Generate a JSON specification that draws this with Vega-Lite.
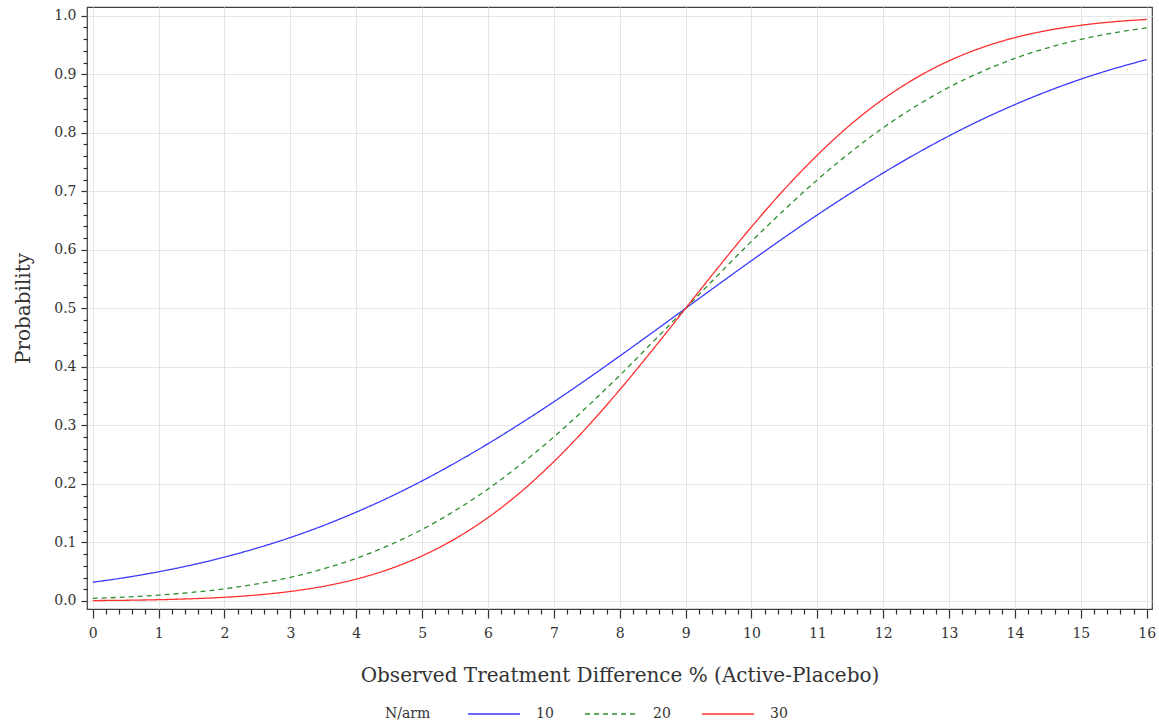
{
  "$schema": "https://vega.github.io/schema/vega-lite/v6.json",
  "autosize": {"type": "none"},
  "padding": {"left": 87, "top": 7, "right": 7, "bottom": 114},
  "width": 1065,
  "height": 602,
  "background": "white",
  "datasets": {
    "curves": [
      {"x":0,"n":"10","p":0.0320},{"x":0.5,"n":"10","p":0.0401},{"x":1,"n":"10","p":0.0499},{"x":1.5,"n":"10","p":0.0614},{"x":2,"n":"10","p":0.0749},{"x":2.5,"n":"10","p":0.0906},{"x":3,"n":"10","p":0.1084},{"x":3.5,"n":"10","p":0.1288},{"x":4,"n":"10","p":0.1518},{"x":4.5,"n":"10","p":0.1772},{"x":5,"n":"10","p":0.2052},{"x":5.5,"n":"10","p":0.2358},{"x":6,"n":"10","p":0.2686},{"x":6.5,"n":"10","p":0.3036},{"x":7,"n":"10","p":0.3403},{"x":7.5,"n":"10","p":0.3788},{"x":8,"n":"10","p":0.4185},{"x":8.5,"n":"10","p":0.4590},{"x":9,"n":"10","p":0.5},{"x":9.5,"n":"10","p":0.5410},{"x":10,"n":"10","p":0.5815},{"x":10.5,"n":"10","p":0.6212},{"x":11,"n":"10","p":0.6597},{"x":11.5,"n":"10","p":0.6964},{"x":12,"n":"10","p":0.7314},{"x":12.5,"n":"10","p":0.7642},{"x":13,"n":"10","p":0.7948},{"x":13.5,"n":"10","p":0.8228},{"x":14,"n":"10","p":0.8482},{"x":14.5,"n":"10","p":0.8712},{"x":15,"n":"10","p":0.8916},{"x":15.5,"n":"10","p":0.9094},{"x":16,"n":"10","p":0.9251},
      {"x":0,"n":"20","p":0.0044},{"x":0.5,"n":"20","p":0.0067},{"x":1,"n":"20","p":0.0100},{"x":1.5,"n":"20","p":0.0146},{"x":2,"n":"20","p":0.0208},{"x":2.5,"n":"20","p":0.0293},{"x":3,"n":"20","p":0.0404},{"x":3.5,"n":"20","p":0.0548},{"x":4,"n":"20","p":0.0728},{"x":4.5,"n":"20","p":0.0953},{"x":5,"n":"20","p":0.1222},{"x":5.5,"n":"20","p":0.1543},{"x":6,"n":"20","p":0.1913},{"x":6.5,"n":"20","p":0.2336},{"x":7,"n":"20","p":0.2803},{"x":7.5,"n":"20","p":0.3313},{"x":8,"n":"20","p":0.3855},{"x":8.5,"n":"20","p":0.4422},{"x":9,"n":"20","p":0.5},{"x":9.5,"n":"20","p":0.5578},{"x":10,"n":"20","p":0.6145},{"x":10.5,"n":"20","p":0.6687},{"x":11,"n":"20","p":0.7197},{"x":11.5,"n":"20","p":0.7664},{"x":12,"n":"20","p":0.8087},{"x":12.5,"n":"20","p":0.8457},{"x":13,"n":"20","p":0.8778},{"x":13.5,"n":"20","p":0.9047},{"x":14,"n":"20","p":0.9272},{"x":14.5,"n":"20","p":0.9452},{"x":15,"n":"20","p":0.9596},{"x":15.5,"n":"20","p":0.9707},{"x":16,"n":"20","p":0.9792},
      {"x":0,"n":"30","p":0.0007},{"x":0.5,"n":"30","p":0.0012},{"x":1,"n":"30","p":0.0022},{"x":1.5,"n":"30","p":0.0038},{"x":2,"n":"30","p":0.0063},{"x":2.5,"n":"30","p":0.0103},{"x":3,"n":"30","p":0.0163},{"x":3.5,"n":"30","p":0.0250},{"x":4,"n":"30","p":0.0374},{"x":4.5,"n":"30","p":0.0544},{"x":5,"n":"30","p":0.0770},{"x":5.5,"n":"30","p":0.1062},{"x":6,"n":"30","p":0.1425},{"x":6.5,"n":"30","p":0.1864},{"x":7,"n":"30","p":0.2381},{"x":7.5,"n":"30","p":0.2965},{"x":8,"n":"30","p":0.3608},{"x":8.5,"n":"30","p":0.4293},{"x":9,"n":"30","p":0.5},{"x":9.5,"n":"30","p":0.5707},{"x":10,"n":"30","p":0.6392},{"x":10.5,"n":"30","p":0.7035},{"x":11,"n":"30","p":0.7619},{"x":11.5,"n":"30","p":0.8136},{"x":12,"n":"30","p":0.8575},{"x":12.5,"n":"30","p":0.8938},{"x":13,"n":"30","p":0.9230},{"x":13.5,"n":"30","p":0.9456},{"x":14,"n":"30","p":0.9626},{"x":14.5,"n":"30","p":0.9750},{"x":15,"n":"30","p":0.9837},{"x":15.5,"n":"30","p":0.9897},{"x":16,"n":"30","p":0.9937}
    ]
  },
  "data": {"name": "curves"},
  "mark": {"type": "line", "interpolate": "monotone", "strokeWidth": 1.3},
  "encoding": {
    "x": {
      "field": "x",
      "type": "quantitative",
      "scale": {"domain": [-0.087, 16.08], "nice": false, "zero": false},
      "axis": {
        "title": "Observed Treatment Difference % (Active-Placebo)",
        "values": [0,0.2,0.4,0.6,0.8,1,1.2,1.4,1.6,1.8,2,2.2,2.4,2.6,2.8,3,3.2,3.4,3.6,3.8,4,4.2,4.4,4.6,4.8,5,5.2,5.4,5.6,5.8,6,6.2,6.4,6.6,6.8,7,7.2,7.4,7.6,7.8,8,8.2,8.4,8.6,8.8,9,9.2,9.4,9.6,9.8,10,10.2,10.4,10.6,10.8,11,11.2,11.4,11.6,11.8,12,12.2,12.4,12.6,12.8,13,13.2,13.4,13.6,13.8,14,14.2,14.4,14.6,14.8,15,15.2,15.4,15.6,15.8,16],
        "labelExpr": "abs(datum.value - round(datum.value)) < 0.001 ? format(datum.value, 'd') : ''",
        "tickSize": {"condition": {"test": "abs(datum.value - round(datum.value)) < 0.001", "value": 9}, "value": 5},
        "gridOpacity": {"condition": {"test": "abs(datum.value - round(datum.value)) < 0.001", "value": 1}, "value": 0},
        "labelPadding": 8,
        "titlePadding": 25
      }
    },
    "y": {
      "field": "p",
      "type": "quantitative",
      "scale": {"domain": [-0.0137, 1.0149], "nice": false, "zero": false},
      "axis": {
        "title": "Probability",
        "values": [0,0.02,0.04,0.06,0.08,0.1,0.12,0.14,0.16,0.18,0.2,0.22,0.24,0.26,0.28,0.3,0.32,0.34,0.36,0.38,0.4,0.42,0.44,0.46,0.48,0.5,0.52,0.54,0.56,0.58,0.6,0.62,0.64,0.66,0.68,0.7,0.72,0.74,0.76,0.78,0.8,0.82,0.84,0.86,0.88,0.9,0.92,0.94,0.96,0.98,1],
        "labelExpr": "abs(datum.value*10 - round(datum.value*10)) < 0.001 ? format(datum.value, '.1f') : ''",
        "tickSize": {"condition": {"test": "abs(datum.value*10 - round(datum.value*10)) < 0.001", "value": 6}, "value": 4},
        "gridOpacity": {"condition": {"test": "abs(datum.value*10 - round(datum.value*10)) < 0.001", "value": 1}, "value": 0},
        "labelPadding": 5,
        "titlePadding": 20
      }
    },
    "color": {
      "field": "n",
      "type": "nominal",
      "scale": {"domain": ["10", "20", "30"], "range": ["#3b3bff", "#2f8f2f", "#ff3030"]},
      "legend": {
        "title": "N/arm",
        "orient": "none",
        "legendX": 298,
        "legendY": 680,
        "direction": "horizontal",
        "titleOrient": "left",
        "titleBaseline": "line-top",
        "titleLineHeight": 20,
        "titleFont": "DejaVu Serif",
        "titleFontSize": 14,
        "titleFontWeight": "normal",
        "titlePadding": 36,
        "symbolType": "stroke",
        "symbolSize": 2700,
        "symbolStrokeWidth": 1.3,
        "labelOffset": 15,
        "columnPadding": 28
      }
    },
    "strokeDash": {
      "field": "n",
      "type": "nominal",
      "scale": {"domain": ["10", "20", "30"], "range": [[1, 0], [5, 4], [1, 0]]},
      "legend": null
    }
  },
  "config": {
    "font": "DejaVu Serif",
    "view": {"stroke": "#404040", "strokeWidth": 1.2},
    "axis": {
      "domain": false,
      "grid": true,
      "gridColor": "#e6e6e6",
      "gridWidth": 1,
      "tickColor": "#303030",
      "tickWidth": 1.2,
      "labelFont": "DejaVu Serif",
      "labelFontSize": 14,
      "labelColor": "#333333",
      "labelOverlap": false,
      "labelBound": false,
      "labelFlush": false,
      "titleFont": "DejaVu Serif",
      "titleFontSize": 20,
      "titleFontWeight": "normal",
      "titleColor": "#333333"
    },
    "legend": {
      "labelFont": "DejaVu Serif",
      "labelFontSize": 14,
      "labelColor": "#333333",
      "titleFont": "DejaVu Serif",
      "titleFontSize": 14,
      "titleFontWeight": "normal",
      "titleColor": "#333333"
    }
  }
}
